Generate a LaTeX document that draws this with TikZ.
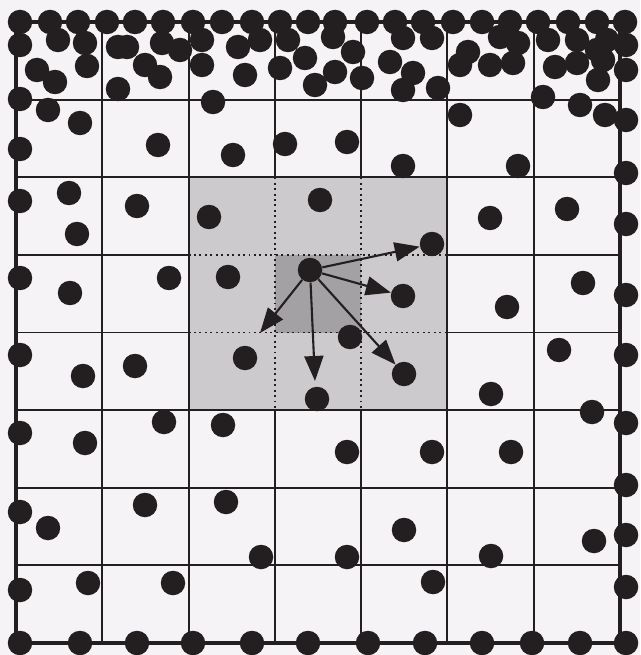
\documentclass[tikz,border=0pt]{standalone}
\usetikzlibrary{arrows.meta}
\definecolor{ink}{HTML}{231F20}
\definecolor{paper}{HTML}{F5F3F5}
\definecolor{shell}{HTML}{CCCACC}
\definecolor{home}{HTML}{A3A1A3}

\begin{document}
\begin{tikzpicture}[x=0.02cm, y=-0.02cm,
  particle/.style={circle, fill=ink, inner sep=0pt, minimum size=0.49cm},
  cellline/.style={draw=ink, line width=1.1pt},
  force/.style={draw=ink, line width=1.2pt, -{Triangle[length=0.5cm, width=0.38cm]}}
]
  \useasboundingbox[fill=paper] (0,0) rectangle (640,655);

  % Cell grid
  \foreach \gx in {102.3,188.6,274.9,361.1,447.4,533.7}
    \draw[cellline] (\gx,22) -- (\gx,643);
  \foreach \gy in {99.6,177.25,254.9,332.5,410.1,487.75,565.4}
    \draw[cellline] (16,\gy) -- (620,\gy);

  % Neighbour cells and home cell
  \fill[shell] (188.6,177.25) rectangle (447.4,410.1);
  \fill[home] (274.9,254.9) rectangle (361.1,332.5);
  \draw[cellline, dotted] (274.9,177.25) -- (274.9,410.1);
  \draw[cellline, dotted] (361.1,177.25) -- (361.1,410.1);
  \draw[cellline, dotted] (188.6,254.9) -- (447.4,254.9);
  \draw[cellline, dotted] (188.6,332.5) -- (447.4,332.5);
  \draw[cellline] (188.6,177.25) rectangle (447.4,410.1);

  % Box walls
  \draw[ink, line width=2.8pt] (16,22) rectangle (620,643);

  % Wall particles
  \foreach \wx [count=\i] in {20,50,78,107,135,163,193,222,252,280,308,335,367,395,423,453,482,510,538,568,597,625}
    \node[particle] (top\i) at (\wx,22) {};
  \foreach \wy [count=\i] in {45,99,149,201,278,355,433,512,590,643}
    \node[particle] (left\i) at (20,\wy) {};
  \foreach \wy [count=\i] in {45,70,120,173,224,295,355,423,485,535,587,643}
    \node[particle] (right\i) at (626,\wy) {};
  \foreach \wx [count=\i] in {80,137,193,252,308,368,425,482,532,580}
    \node[particle] (bot\i) at (\wx,643) {};

  % Free particles
  \foreach \px/\py [count=\i] in {58/40,85/43,87/66,37/70,55/82,118/47,127/47,145/65,162/43,180/50,
      160/77,118/89,202/40,202/65,238/47,260/40,245/75,288/40,280/68,305/58,315/85,333/37,353/52,
      335/72,362/78,390/62,403/38,432/38,413/73,403/90,438/88,468/52,460/65,490/65,500/37,513/63,
      518/43,548/40,555/67,577/63,577/40,597/50,607/40,603/60,598/80,543/97,213/102,
      48/110,80/123,158/145,233/155,285/144,347/142,403/166,460/115,518/166,580/105,605/115,
      69/193,77/234,137/206,209/217,320/200,490/218,567/209,
      70/293,169/278,228/277,507/307,583/283,350/337,
      83/376,135/366,245/358,317/399,559/350,491/394,592/412,
      85/443,164/422,223/425,347/452,432/452,511/452,
      48/528,145/505,226/502,261/557,347/557,404/530,491/556,594/541,
      88/583,173/583,433/582}
    \node[particle] (p\i) at (\px,\py) {};

  % Central particle and its partners
  \node[particle] (ctr) at (310,270) {};
  \node[particle] (nbE) at (432,244) {};
  \node[particle] (nbR) at (403,296) {};
  \node[particle] (nbS) at (404,374) {};
  \coordinate (endSW) at (260,333);
  \coordinate (endS) at (315,381);

  % Pair interactions
  \draw[force] (ctr) -- (nbE);
  \draw[force] (ctr) -- (nbR);
  \draw[force] (ctr) -- (nbS);
  \draw[force] (ctr) -- (endSW);
  \draw[force] (ctr) -- (endS);
\end{tikzpicture}
\end{document}
